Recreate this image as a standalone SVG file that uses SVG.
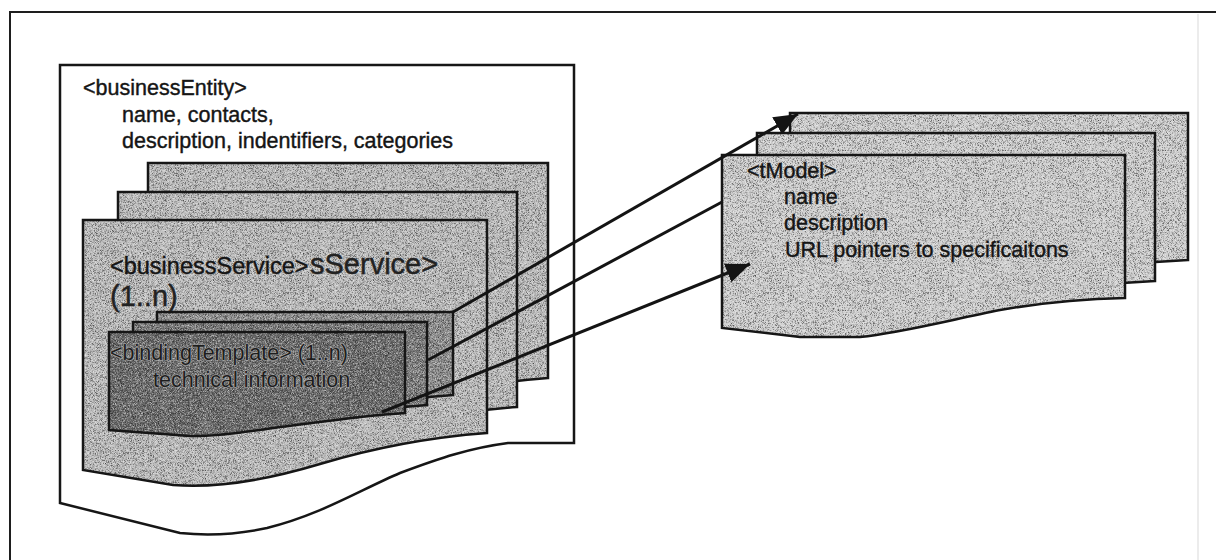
<svg xmlns="http://www.w3.org/2000/svg" width="1216" height="560" viewBox="0 0 1216 560">
  <style>
    .frame { fill: none; stroke: #1e1e1e; stroke-width: 2; }
    .outline { fill: none; stroke: #161616; stroke-width: 2.5; stroke-linejoin: miter; }
    .entity { fill: #ffffff; }
    .svc { fill: #bababa; }
    .bind1 { fill: #8e8e8e; }
    .bind2 { fill: #7c7c7c; }
    .bind3 { fill: #6b6b6b; }
    .tm { fill: #cccccc; }
    .t { font-family: "Liberation Sans", Arial, sans-serif; font-size: 21.5px; fill: #151515; stroke: #151515; stroke-width: 0.4; }
    .mid { font-size: 23.5px; }
    .big { font-size: 29px; fill: #222222; stroke: #222222; }
    .onDark { fill: #1e1e1e; stroke: #a8a8a8; stroke-width: 1.2; paint-order: stroke; }
    .link { fill: none; stroke: #141414; stroke-width: 3; }
  </style>
  <defs>
    <!-- fine halftone speckle for the shaded sheets -->
    <filter id="stipple" x="-1%" y="-1%" width="102%" height="102%" color-interpolation-filters="sRGB">
      <feTurbulence type="fractalNoise" baseFrequency="1.6" numOctaves="1" seed="4" result="noise"/>
      <feColorMatrix in="noise" type="matrix" values="0 0 0 0 0  0 0 0 0 0  0 0 0 0 0  2 0 0 0 -1" result="dark"/>
      <feColorMatrix in="noise" type="matrix" values="0 0 0 0 1  0 0 0 0 1  0 0 0 0 1  -2 0 0 0 1" result="light"/>
      <feMerge result="specks"><feMergeNode in="dark"/><feMergeNode in="light"/></feMerge>
      <feComposite in="specks" in2="SourceAlpha" operator="in" result="clipped"/>
      <feMerge><feMergeNode in="SourceGraphic"/><feMergeNode in="clipped"/></feMerge>
    </filter>
    <marker id="head" viewBox="0 0 24 20" refX="24" refY="10" markerWidth="24" markerHeight="20" markerUnits="userSpaceOnUse" orient="auto">
      <path d="M0,0 L24,10 L0,20 Z" fill="#141414"/>
    </marker>
    <!-- sheet outlines: rectangle with a wavy "document" bottom -->
    <path id="beSheet" d="M60,65 H574 V443 H508 C470,448 440,458 400,473 C360,490 320,515 267,528 C230,536 200,535 180,533 L60,503 Z"/>
    <path id="bs3" d="M148,163 H548 V378 C480,383 420,397 380,409 C320,427 270,433 233,430 L148,415 Z"/>
    <path id="bs2" d="M118,192 H517 V407 C450,412 390,426 350,438 C290,456 240,462 203,459 L118,444 Z"/>
    <path id="bs1" d="M83,220 H487 V433 C420,438 360,452 320,464 C260,482 210,488 173,485 L83,470 Z"/>
    <path id="bt3" d="M157,312 H453 V395 C410,398 370,404 330,409 C290,415 260,419 240,418 L157,412 Z"/>
    <path id="bt2" d="M133,322 H427 V405 C385,408 345,414 305,419 C265,425 235,429 215,428 L133,422 Z"/>
    <path id="bt1" d="M109,332 H405 V413 C360,416 320,422 280,427 C240,433 210,437 190,436 L109,430 Z"/>
    <path id="tm3" d="M790,113 H1188 V260 C1145,262 1105,266 1065,273 C1015,283 975,296 935,300 L875,300 L790,291 Z"/>
    <path id="tm2" d="M757,133 H1155 V281 C1112,283 1072,287 1032,294 C982,304 942,317 902,321 L842,321 L757,312 Z"/>
    <path id="tm1" d="M722,155 H1125 V298 C1080,299 1040,303 1000,310 C950,320 900,333 860,337 L800,337 L722,328 Z"/>
  </defs>

  <rect x="0" y="0" width="1216" height="560" fill="#ffffff"/>

  <!-- page frame -->
  <path class="frame" d="M10,562 V12 H1216"/>
  <path d="M1198,14 V560" fill="none" stroke="#e6e6e6" stroke-width="1.5"/>

  <!-- businessEntity document -->
  <g id="businessEntity">
    <use href="#beSheet" class="entity"/>
    <use href="#beSheet" class="outline"/>
    <text class="t" x="83" y="95">&lt;businessEntity&gt;</text>
    <text class="t" x="122" y="122">name, contacts,</text>
    <text class="t" x="122" y="148">description, indentifiers, categories</text>
  </g>

  <!-- businessService stack -->
  <g id="businessService">
    <use href="#bs3" class="svc" filter="url(#stipple)"/>
    <use href="#bs3" class="outline"/>
    <use href="#bs2" class="svc" filter="url(#stipple)"/>
    <use href="#bs2" class="outline"/>
    <use href="#bs1" class="svc" filter="url(#stipple)"/>
    <use href="#bs1" class="outline"/>
    <text class="t mid" x="110" y="274">&lt;businessService&gt;</text>
    <text class="t big" x="310" y="274">sService&gt;</text>
    <text class="t big" x="110" y="306">(1..n)</text>
  </g>

  <!-- bindingTemplate stack -->
  <g id="bindingTemplate">
    <use href="#bt3" class="bind1" filter="url(#stipple)"/>
    <use href="#bt3" class="outline"/>
    <use href="#bt2" class="bind2" filter="url(#stipple)"/>
    <use href="#bt2" class="outline"/>
    <use href="#bt1" class="bind3" filter="url(#stipple)"/>
    <use href="#bt1" class="outline"/>
    <text class="t onDark" x="110" y="360">&lt;bindingTemplate&gt; (1..n)</text>
    <text class="t onDark" x="153" y="387">technical information</text>
  </g>

  <!-- tModel stack -->
  <g id="tModel">
    <use href="#tm3" class="tm" filter="url(#stipple)"/>
    <use href="#tm3" class="outline"/>
    <use href="#tm2" class="tm" filter="url(#stipple)"/>
    <use href="#tm2" class="outline"/>
    <use href="#tm1" class="tm" filter="url(#stipple)"/>
    <use href="#tm1" class="outline"/>
    <text class="t" x="747" y="178">&lt;tModel&gt;</text>
    <text class="t" x="784" y="204">name</text>
    <text class="t" x="784" y="230">description</text>
    <text class="t" x="785" y="257">URL pointers to specificaitons</text>
  </g>

  <!-- references from binding templates to tModels -->
  <g id="connectors">
    <path class="link" d="M453,312 L798,114" marker-end="url(#head)"/>
    <path class="link" d="M428,360 L722,202"/>
    <path class="link" d="M382,412 L750,264" marker-end="url(#head)"/>
  </g>
</svg>
